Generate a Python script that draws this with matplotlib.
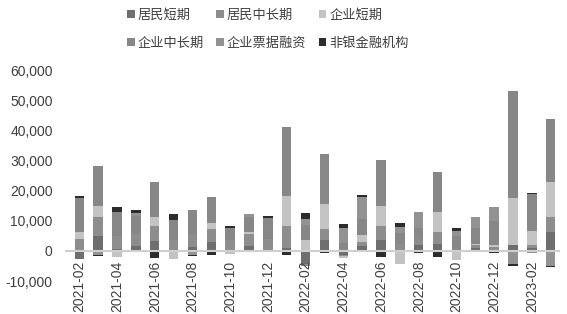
import matplotlib
matplotlib.use("Agg")
import matplotlib.pyplot as plt
import numpy as np

months = ["2021-02", "2021-03", "2021-04", "2021-05", "2021-06", "2021-07",
          "2021-08", "2021-09", "2021-10", "2021-11", "2021-12", "2022-01",
          "2022-02", "2022-03", "2022-04", "2022-05", "2022-06", "2022-07",
          "2022-08", "2022-09", "2022-10", "2022-11", "2022-12", "2023-01",
          "2023-02", "2023-03"]

# 亿元
hh_short = [-2800, 5000, 500, 1700, 3300, 300, 1400, 3000, -400, 1700, 0, 1000,
            -4500, 3700, -1500, 1700, 3500, 300, 1900, 2400, -200, 800, -300, 1900,
            1000, 6100]
hh_long = [4100, 6100, 4500, 3900, 5000, 3200, 3900, 4400, 3500, 4000, 3800, 7300,
           -500, 3500, -300, 1100, 4800, 2000, 2000, 3900, 200, 1000, 1300, 100,
           900, 5000]
corp_short = [2000, 3900, -2000, -500, 3100, -2800, 0, 2000, -500, 400, -500, 10000,
              3500, 8400, -500, 2400, 6700, -4200, -300, 6500, -2800, 500, 500, 15500,
              4600, 11900]
corp_long = [11300, 13300, 7800, 6000, 11400, 6800, 8200, 8600, 4000, 5300, 7100, 22800,
             5000, 16600, 2600, 5300, 15300, 3500, 3600, 13500, 4700, 5200, 8000, 35400,
             12300, 20900]
bills = [200, -1500, 0, 900, 0, 0, -1200, -500, 0, 1000, 0, -500,
         2200, -300, 5000, 7500, 0, 2000, 5500, 0, 1700, 3600, 4900, -4400,
         -600, -5000]
nonbank = [500, -300, 1600, 900, -2200, 1900, -600, -1000, 900, -400, 800, -1000,
           1800, -300, 1300, 500, -2000, 1300, -400, -2000, 900, -300, -500, -600,
           400, -500]

series = [
    ("居民短期", hh_short, "#6e6e6e"),
    ("居民中长期", hh_long, "#8d8d8d"),
    ("企业短期", corp_short, "#c3c3c3"),
    ("企业中长期", corp_long, "#878787"),
    ("企业票据融资", bills, "#929292"),
    ("非银金融机构", nonbank, "#2c2c2c"),
]

fig = plt.figure(figsize=(5.67, 3.14), dpi=100)
ax = fig.add_axes([0.115, 0.105, 0.873, 0.672])

x = np.arange(len(months))
pos_base = np.zeros(len(months))
neg_base = np.zeros(len(months))
handles = []
for name, vals, color in series:
    v = np.array(vals, dtype=float)
    pos = np.where(v > 0, v, 0)
    neg = np.where(v < 0, v, 0)
    h = ax.bar(x, pos, 0.5, bottom=pos_base, color=color, label=name)
    ax.bar(x, neg, 0.5, bottom=neg_base, color=color)
    pos_base += pos
    neg_base += neg
    handles.append(h)

ax.axhline(0, color="#cfcfcf", lw=1.5, zorder=3)

ax.set_ylim(-10000, 60000)
ax.set_xlim(-0.75, 25.5)
ax.set_yticks(range(-10000, 60001, 10000))
ax.set_yticklabels([f"{t:,}" for t in range(-10000, 60001, 10000)],
                   fontsize=10, color="#404040", family="Liberation Sans")
# category axis crosses at zero, labels hang below it
ax.spines["bottom"].set_position(("data", 0))
ax.set_xticks(x[::2])
ax.set_xticklabels(months[::2], rotation=90, fontsize=10, color="#404040",
                   family="Liberation Sans")
ax.tick_params(axis="y", length=0, pad=9)
ax.tick_params(axis="x", length=0, pad=7)
for s in ax.spines.values():
    s.set_visible(False)

order = [0, 3, 1, 4, 2, 5]
fig.legend([handles[i] for i in order], [series[i][0] for i in order],
           ncol=3, loc="upper center", bbox_to_anchor=(0.472, 1.01), frameon=False,
           prop={"family": ["Noto Sans CJK SC", "DejaVu Sans"], "size": 9.5},
           handlelength=0.6, handleheight=0.6, handletextpad=0.2,
           columnspacing=0.95, labelspacing=1.15, labelcolor="#404040")

fig.savefig("out.png", dpi=100)
